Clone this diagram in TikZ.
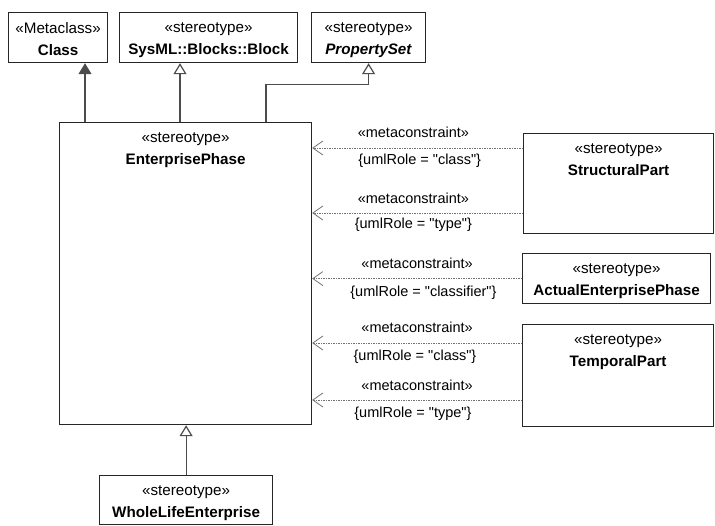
\documentclass[tikz,border=0pt]{standalone}
\usepackage{fontspec}
\setmainfont{Liberation Sans}
\usetikzlibrary{arrows.meta}

\begin{document}
\begin{tikzpicture}[x=1pt, y=-1pt,
  box/.style={draw=black!85, line width=1.2pt, inner sep=0pt, anchor=north west},
  boxtext/.style={anchor=north, align=center, inner sep=0pt, yshift=-10pt, font=\fontsize{15.2}{22}\selectfont},
  gen/.style={draw=black!70, line width=1.2pt, -{Triangle[open, length=11pt, width=13pt]}},
  ext/.style={draw=black!70, line width=1.2pt, -{Triangle[length=11pt, width=13pt]}},
  dep/.style={draw=black!55, line width=0.8pt, dash pattern=on 1.5pt off 1pt, -{Straight Barb[length=10pt, width=14pt]}},
  lbl/.style={font=\fontsize{14.5}{17}\selectfont, inner sep=0pt}]
\useasboundingbox (0,0) rectangle (715,525);

\node[box, minimum width=99pt, minimum height=50pt, label={[boxtext]north:{«Metaclass»\\\textbf{Class}}}] (class) at (8,12) {};
\node[box, minimum width=178pt, minimum height=50pt, label={[boxtext]north:{«stereotype»\\\textbf{SysML::Blocks::Block}}}] (block) at (119,12) {};
\node[box, minimum width=114pt, minimum height=50pt, label={[boxtext]north:{«stereotype»\\\textbf{\textit{PropertySet}}}}] (pset) at (311,12) {};

\node[box, minimum width=252pt, minimum height=302pt, label={[boxtext]north:{«stereotype»\\\textbf{EnterprisePhase}}}] (ep) at (59,122) {};

\node[box, minimum width=190pt, minimum height=100pt, label={[boxtext]north:{«stereotype»\\\textbf{StructuralPart}}}] (sp) at (523,133) {};
\node[box, minimum width=188pt, minimum height=50pt, label={[boxtext]north:{«stereotype»\\\textbf{ActualEnterprisePhase}}}] (aep) at (522,253) {};
\node[box, minimum width=191pt, minimum height=102pt, label={[boxtext]north:{«stereotype»\\\textbf{TemporalPart}}}] (tp) at (522,324) {};

\node[box, minimum width=173pt, minimum height=49pt, label={[boxtext]north:{«stereotype»\\\textbf{WholeLifeEnterprise}}}] (wle) at (99,475) {};

% generalisations
\coordinate (c1) at ([xshift=26pt]ep.north west);
\coordinate (c2) at ([xshift=121pt]ep.north west);
\coordinate (c3) at ([xshift=207pt]ep.north west);
\draw[ext] (c1) -- (c1 |- class.south);
\draw[gen] (c2) -- (c2 |- block.south);
\draw[gen] (c3) |- ([yshift=-21pt]pset.south) -- (pset.south);
\draw[gen] (wle.north) -- (wle.north |- ep.south);

% metaconstraints
\coordinate (d1) at ([yshift=-15pt]sp.north west);
\coordinate (d2) at ([yshift=-80pt]sp.north west);
\coordinate (d3) at (aep.west);
\coordinate (d4) at ([yshift=-19pt]tp.north west);
\coordinate (d5) at ([yshift=-76pt]tp.north west);
\draw[dep] (d1) -- (d1 -| ep.east)
  node[lbl, pos=0.52, above=10pt] {«metaconstraint»}
  node[lbl, pos=0.49, below=6pt] {\{umlRole = \textquotedbl class\textquotedbl\}};
\draw[dep] (d2) -- (d2 -| ep.east)
  node[lbl, pos=0.52, above=9pt] {«metaconstraint»}
  node[lbl, pos=0.52, below=5pt] {\{umlRole = \textquotedbl type\textquotedbl\}};
\draw[dep] (d3) -- (d3 -| ep.east)
  node[lbl, pos=0.5, above=10pt] {«metaconstraint»}
  node[lbl, pos=0.47, below=7pt] {\{umlRole = \textquotedbl classifier\textquotedbl\}};
\draw[dep] (d4) -- (d4 -| ep.east)
  node[lbl, pos=0.5, above=10pt] {«metaconstraint»}
  node[lbl, pos=0.51, below=7pt] {\{umlRole = \textquotedbl class\textquotedbl\}};
\draw[dep] (d5) -- (d5 -| ep.east)
  node[lbl, pos=0.5, above=9pt] {«metaconstraint»}
  node[lbl, pos=0.52, below=7pt] {\{umlRole = \textquotedbl type\textquotedbl\}};
\end{tikzpicture}
\end{document}
